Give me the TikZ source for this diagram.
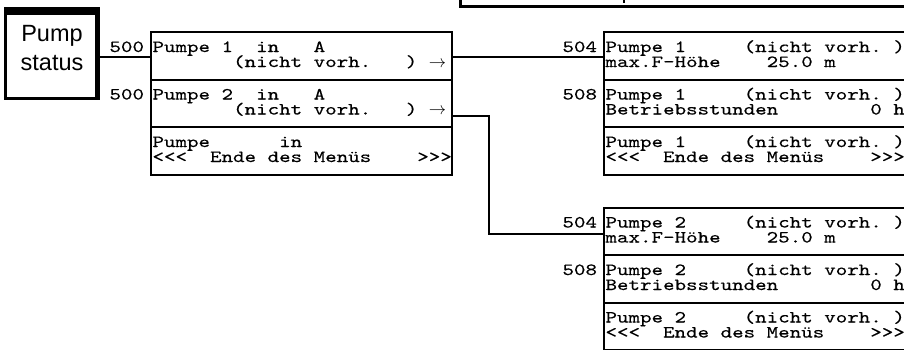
\documentclass[tikz,border=0pt]{standalone}
\usepackage{fontspec}
\newfontfamily\lcd{lmmono10-regular.otf}[FakeStretch=1.29,FakeBold=0.3]
\newfontfamily\hel{Liberation Sans}
\newcommand\lcdf{\lcd\fontsize{17}{17}\selectfont}
\newcommand\helf{\hel\fontsize{23.5}{29}\selectfont}
\begin{document}
\begin{tikzpicture}[x=1pt,y=-1pt,
  rowbox/.style={draw,line width=2pt,minimum width=300.7pt,minimum height=47.5pt,inner sep=0pt,outer sep=0pt,anchor=north west},
  lcdtxt/.style={inner sep=0pt,outer sep=0pt,anchor=base west,font=\lcdf,text height=10.5pt,text depth=3pt},
  numlab/.style={inner sep=0pt,outer sep=0pt,anchor=base east,font=\lcdf,text height=10.5pt,text depth=3pt},
  wire/.style={line width=2pt}]
\clip (0,0) rectangle (904,349);
\fill[white] (0,0) rectangle (904,349);

% title box (cut off at top edge)
\draw[line width=3pt] (460.5,-40) rectangle (980,6);
\fill (622.5,0) rectangle (625,2.5);

% pump status box
\node[draw,line width=3pt,minimum width=93pt,minimum height=89.7pt,inner sep=0pt,outer sep=0pt] (ps) at (52,53.65) {};
\fill (4,7.3) rectangle (100,15);
\fill (95,7.3) rectangle (100,100);
\node[font=\helf,anchor=base,inner sep=0pt] (pst1) at (52,41.5) {Pump};
\node[font=\helf,anchor=base,inner sep=0pt] (pst2) at (52,70.5) {status};

% left menu
\node[rowbox] (L1) at (151,32) {};
\node[rowbox] (L2) at (151,79.5) {};
\node[rowbox] (L3) at (151,127) {};
\node[numlab] (nL1) at ([shift={(-7,20)}]L1.north west) {500};
\node[numlab] (nL2) at ([shift={(-7,20)}]L2.north west) {500};
\node[lcdtxt] (L1a) at ([shift={(1.5,20)}]L1.north west) {Pumpe~1~~in~~~A};
\node[lcdtxt] (L1b) at ([shift={(1.5,35)}]L1.north west) {~~~~~~~(nicht~vorh.~~~)~$\rightarrow$};
\node[lcdtxt] (L2a) at ([shift={(1.5,20)}]L2.north west) {Pumpe~2~~in~~~A};
\node[lcdtxt] (L2b) at ([shift={(1.5,35)}]L2.north west) {~~~~~~~(nicht~vorh.~~~)~$\rightarrow$};
\node[lcdtxt] (L3a) at ([shift={(1.5,20)}]L3.north west) {Pumpe~~~~~~in};
\node[lcdtxt] (L3b) at ([shift={(1.5,35)}]L3.north west) {<<<~~Ende~des~Menüs~~~~>>>};

% right menu, pump 1
\node[rowbox] (R1) at (604,32) {};
\node[rowbox] (R2) at (604,79.5) {};
\node[rowbox] (R3) at (604,127) {};
\node[numlab] (nR1) at ([shift={(-7,20)}]R1.north west) {504};
\node[numlab] (nR2) at ([shift={(-7,20)}]R2.north west) {508};
\node[lcdtxt] (R1a) at ([shift={(1.5,20)}]R1.north west) {Pumpe~1~~~~~(nicht~vorh.~)};
\node[lcdtxt] (R1b) at ([shift={(1.5,35)}]R1.north west) {max.F-Höhe~~~~25.0~m};
\node[lcdtxt] (R2a) at ([shift={(1.5,20)}]R2.north west) {Pumpe~1~~~~~(nicht~vorh.~)};
\node[lcdtxt] (R2b) at ([shift={(1.5,35)}]R2.north west) {Betriebsstunden~~~~~~~~0~h};
\node[lcdtxt] (R3a) at ([shift={(1.5,20)}]R3.north west) {Pumpe~1~~~~~(nicht~vorh.~)};
\node[lcdtxt] (R3b) at ([shift={(1.5,35)}]R3.north west) {<<<~~Ende~des~Menüs~~~~>>>};

% right menu, pump 2
\node[rowbox] (S1) at (604,207.5) {};
\node[rowbox] (S2) at (604,255) {};
\node[rowbox] (S3) at (604,302.5) {};
\node[numlab] (nS1) at ([shift={(-7,20)}]S1.north west) {504};
\node[numlab] (nS2) at ([shift={(-7,20)}]S2.north west) {508};
\node[lcdtxt] (S1a) at ([shift={(1.5,20)}]S1.north west) {Pumpe~2~~~~~(nicht~vorh.~)};
\node[lcdtxt] (S1b) at ([shift={(1.5,35)}]S1.north west) {max.F-Höhe~~~~25.0~m};
\node[lcdtxt] (S2a) at ([shift={(1.5,20)}]S2.north west) {Pumpe~2~~~~~(nicht~vorh.~)};
\node[lcdtxt] (S2b) at ([shift={(1.5,35)}]S2.north west) {Betriebsstunden~~~~~~~~0~h};
\node[lcdtxt] (S3a) at ([shift={(1.5,20)}]S3.north west) {Pumpe~2~~~~~(nicht~vorh.~)};
\node[lcdtxt] (S3b) at ([shift={(1.5,35)}]S3.north west) {<<<~~Ende~des~Menüs~~~~>>>};

% connectors
\coordinate (k1) at (0,57);
\coordinate (k2) at (0,115.7);
\coordinate (k3) at (489,234.3);
\draw[wire] (ps.east |- k1) -- (L1.west |- k1);
\draw[wire] (L1.east |- k1) -- (R1.west |- k1);
\draw[wire] (L2.east |- k2) -- (k3 |- k2) -- (k3) -- (S1.west |- k3);
\end{tikzpicture}
\end{document}
